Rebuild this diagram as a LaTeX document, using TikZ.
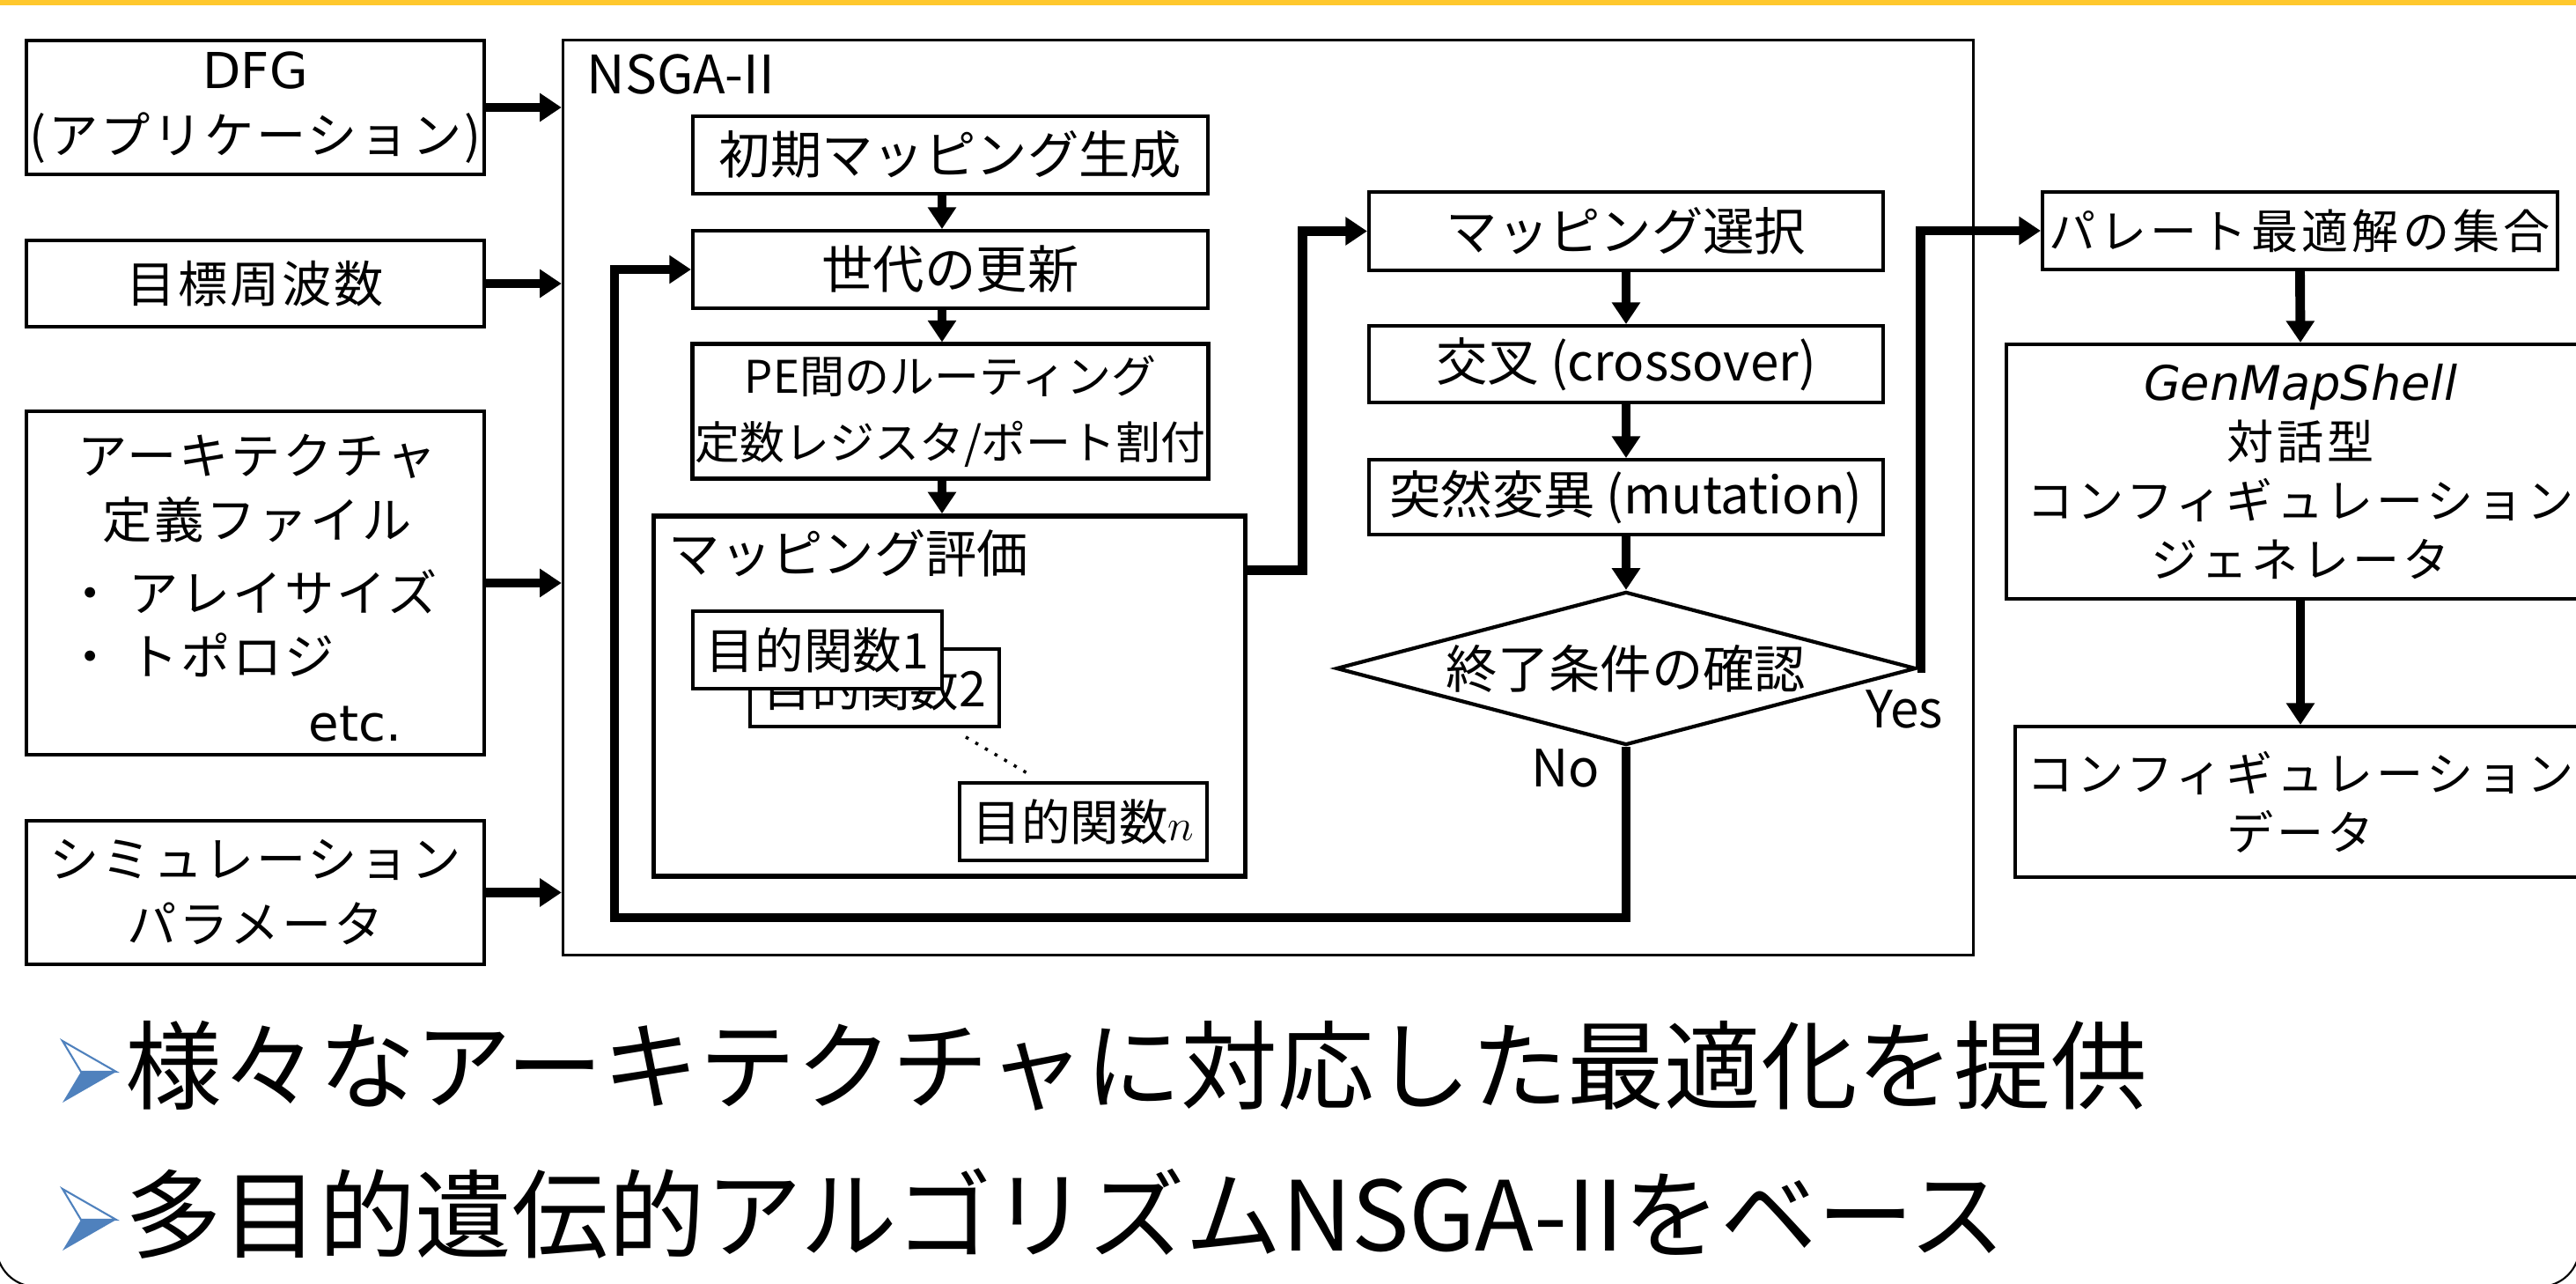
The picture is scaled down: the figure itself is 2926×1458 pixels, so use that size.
\documentclass[tikz,border=0pt]{standalone}
\usepackage{fontspec}
\setmainfont{Noto Sans CJK JP}
\newfontfamily\jpl[LetterSpace=5]{Noto Sans CJK JP}
\newfontfamily\jpr[LetterSpace=8]{Noto Sans CJK JP}
\newfontfamily\dvs{DejaVu Sans}
\newfontfamily\dvsi{DejaVu Sans Oblique}
\usetikzlibrary{arrows.meta,shapes.geometric,calc}
\definecolor{topyellow}{RGB}{255,200,45}
\definecolor{bulletblue}{RGB}{79,129,189}
\newcommand\fLeft{\jpl\fontsize{16pt}{21pt}\selectfont}
\newcommand\fMid{\fontsize{16.6pt}{21pt}\selectfont}
\newcommand\fPE{\fontsize{14.5pt}{21.3pt}\selectfont}
\newcommand\fObj{\fontsize{15.8pt}{20pt}\selectfont}
\newcommand\fRight{\jpr\fontsize{15.1pt}{19pt}\selectfont}
\newcommand\fLab{\fontsize{17.1pt}{21pt}\selectfont}
\newcommand\fBig{\fontsize{31.2pt}{40pt}\selectfont}
\begin{document}
\begin{tikzpicture}[x=0.01cm,y=-0.01cm,
  box/.style={draw, line width=1.1pt, fill=white, inner sep=0pt, align=center},
  conn/.style={line width=3.1pt, -{Triangle[width=8.8pt,length=7pt]}},
  lbl/.style={inner sep=0pt, align=center}]
\useasboundingbox (0,0) rectangle (2926,1458);
\fill[topyellow] (0,0) rectangle (2926,6);
\draw[line width=0.6pt, rounded corners=0.45cm] (-4,1200) |- (2930,1461) -- (2930,1200);

% left column
\node[box, font=\fLeft, minimum width=5.2cm, minimum height=1.52cm] (dfg) at (290,122) {{\dvs DFG}\\(アプリケーション)};
\node[box, font=\fLeft, minimum width=5.2cm, minimum height=0.98cm] (freq) at (290,322) {目標周波数};
\node[box, minimum width=5.2cm, minimum height=3.9cm] (arch) at (290,662) {};
\node[lbl, font=\fLeft] (a1) at (292,518) {アーキテクチャ};
\node[lbl, font=\fLeft] (a2) at (292,590) {定義ファイル};
\node[lbl, font=\fLeft, anchor=west] (a3) at (74,672) {・ アレイサイズ};
\node[lbl, font=\fLeft, anchor=west] (a4) at (74,744) {・ トポロジ};
\node[lbl, font=\fLeft\dvs, anchor=west] (a5) at (350,822) {etc.};
\node[box, font=\fLeft, minimum width=5.2cm, minimum height=1.63cm] (sim) at (290,1013.5) {シミュレーション\\パラメータ};

% NSGA-II container
\node[draw, line width=1pt, inner sep=0pt, minimum width=16.01cm, minimum height=10.38cm] (nsga) at (1440.5,565) {};
\node[lbl, font=\fLab, anchor=base west] (nsgalabel) at (666,107) {NSGA-II};
\foreach \n in {dfg,freq,arch,sim} \draw[conn] (\n.east) -- (\n.east -| nsga.west);

% middle column
\node[box, font=\fMid, minimum width=5.85cm, minimum height=0.88cm] (init) at (1079.5,176) {初期マッピング生成};
\node[box, font=\fMid, minimum width=5.85cm, minimum height=0.88cm] (gen) at (1079.5,306) {世代の更新};
\node[box, line width=1.4pt, font=\fPE, minimum width=5.85cm, minimum height=1.52cm] (pe) at (1079.5,467) {PE間のルーティング\\定数レジスタ/ポート割付};
\node[box, line width=1.5pt, minimum width=6.71cm, minimum height=4.09cm] (eval) at (1078.5,790.5) {};
\node[lbl, font=\fMid, anchor=west] (evallabel) at (759,628) {マッピング評価};
\node[box, font=\fObj, minimum width=2.83cm, minimum height=0.88cm] (obj2) at (993.5,781) {目的関数2};
\node[box, font=\fObj, minimum width=2.83cm, minimum height=0.88cm] (obj1) at (928.5,738) {目的関数1};
\node[box, font=\fObj, minimum width=2.81cm, minimum height=0.88cm] (objn) at (1230.5,933) {目的関数$n$};
\draw[line width=1pt, dash pattern=on 1pt off 2.6pt] ($(obj2.south east)+(-40,10)$) -- ($(objn.north west)+(79,-9)$);
\coordinate (colA) at (1070,0);
\draw[conn] (init.south -| colA) -- (gen.north -| colA);
\draw[conn] (gen.south -| colA) -- (pe.north -| colA);
\draw[conn] (pe.south -| colA) -- (eval.north -| colA);

% right column
\node[box, font=\fMid, minimum width=5.84cm, minimum height=0.89cm] (sel) at (1847,262.5) {マッピング選択};
\node[box, font=\fMid, minimum width=5.84cm, minimum height=0.87cm] (cross) at (1847,413.5) {交叉 (crossover)};
\node[box, font=\fMid, minimum width=5.84cm, minimum height=0.85cm] (mut) at (1847,564.5) {突然変異 (mutation)};
\node[diamond, draw, line width=1.2pt, fill=white, inner sep=0pt, aspect=3.78, minimum width=6.58cm, minimum height=1.74cm, font=\fMid] (dia) at (1847,759) {終了条件の確認};
\draw[conn] (sel.south) -- (cross.north);
\draw[conn] (cross.south) -- (mut.north);
\draw[conn] (mut.south) -- (dia.north);
\draw[conn] ([yshift=-0.64cm]eval.north east) -| ([xshift=-0.73cm]sel.west) -- (sel.west);
\node[lbl, font=\fMid] (yes) at (2163,805) {Yes};
\node[lbl, font=\fMid] (no) at (1778,872) {No};

% far right column
\node[box, font=\fRight, minimum width=5.85cm, minimum height=0.88cm] (pareto) at (2612.5,262) {パレート最適解の集合};
\node[box, font=\fRight, minimum width=6.68cm, minimum height=2.89cm] (genmap) at (2613,535.5) {{\dvsi\fontsize{15.4pt}{19pt}\selectfont GenMapShell}\\対話型\\コンフィギュレーション\\ジェネレータ};
\node[box, font=\fRight, minimum width=6.48cm, minimum height=1.71cm] (conf) at (2613,910.5) {コンフィギュレーション\\データ};
\draw[conn] (pareto.south) -- (genmap.north);
\draw[conn] (genmap.south) -- (conf.north);

% loops
\coordinate (loopc) at (698,1042);
\draw[conn] (dia.south) |- (loopc) |- (gen.west);
\draw[conn] (dia.east) -| ([xshift=-1.36cm]pareto.west) -- (pareto.west);

% bottom bullets
\node[lbl, font=\fBig, anchor=west] (b1) at (142,1210) {様々なアーキテクチャに対応した最適化を提供};
\node[lbl, font=\fBig, anchor=west] (b2) at (142,1378) {多目的遺伝的アルゴリズムNSGA-IIをベース};
\foreach \yy in {1217,1385} {
  \fill[bulletblue] (92,\yy) -- (132,\yy) -- (71,\yy+35) -- cycle;
  \draw[bulletblue, line width=0.6pt, line join=miter] (71,\yy-35) -- (132,\yy) -- (92,\yy) -- cycle;
}
\end{tikzpicture}
\end{document}
